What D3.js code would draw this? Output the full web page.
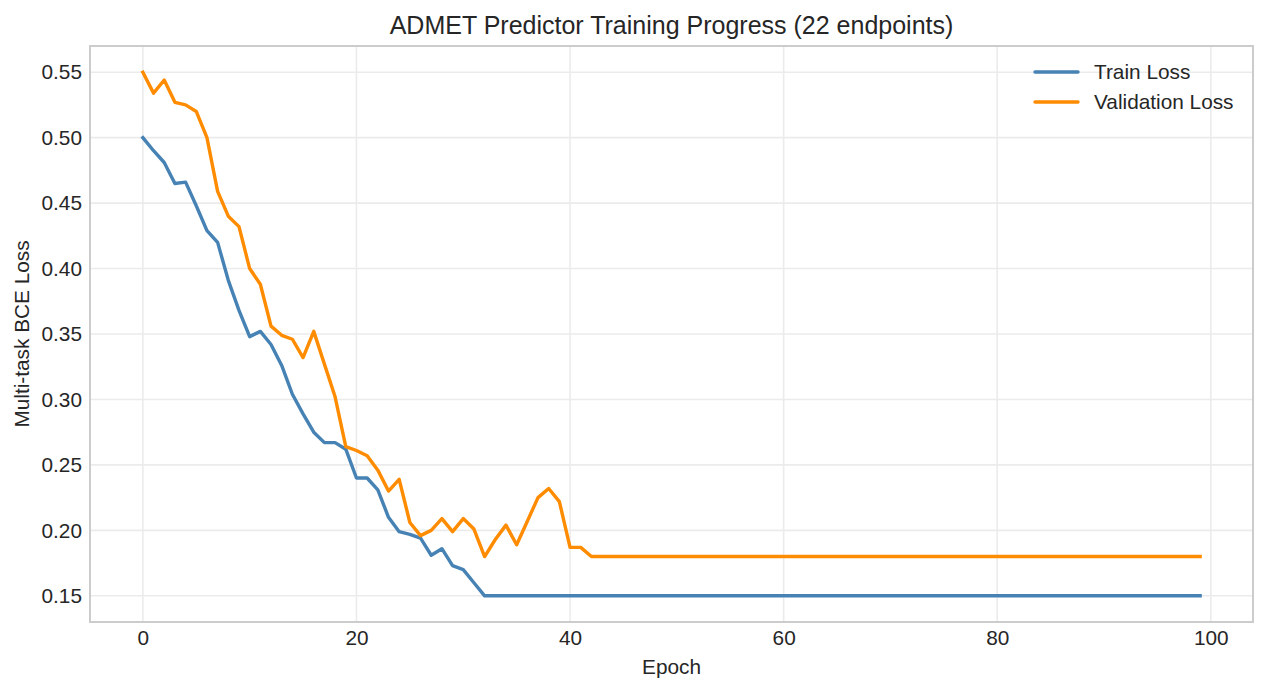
<!DOCTYPE html>
<html>
<head>
<meta charset="utf-8">
<script src="https://cdn.jsdelivr.net/npm/d3@7"></script>
<style>
  body { margin: 0; background: #fff; }
  svg text { font-family: "Liberation Sans", Arial, sans-serif; fill: #262626; }
</style>
</head>
<body>
<div id="chart"></div>
<script>
// Loss per epoch
var epochs = d3.range(100);

var trainLoss = [
  0.500, 0.490, 0.481, 0.465, 0.466, 0.448, 0.429, 0.420, 0.391, 0.368,
  0.348, 0.352, 0.342, 0.326, 0.304, 0.289, 0.275, 0.267, 0.267, 0.262,
  0.240, 0.240, 0.231, 0.210, 0.199, 0.197, 0.194, 0.181, 0.186, 0.173,
  0.170, 0.160, 0.150, 0.150, 0.150, 0.150, 0.150, 0.150, 0.150, 0.150,
  0.150, 0.150, 0.150, 0.150, 0.150, 0.150, 0.150, 0.150, 0.150, 0.150,
  0.150, 0.150, 0.150, 0.150, 0.150, 0.150, 0.150, 0.150, 0.150, 0.150,
  0.150, 0.150, 0.150, 0.150, 0.150, 0.150, 0.150, 0.150, 0.150, 0.150,
  0.150, 0.150, 0.150, 0.150, 0.150, 0.150, 0.150, 0.150, 0.150, 0.150,
  0.150, 0.150, 0.150, 0.150, 0.150, 0.150, 0.150, 0.150, 0.150, 0.150,
  0.150, 0.150, 0.150, 0.150, 0.150, 0.150, 0.150, 0.150, 0.150, 0.150
];

var valLoss = [
  0.550, 0.534, 0.544, 0.527, 0.525, 0.520, 0.500, 0.459, 0.440, 0.432,
  0.400, 0.388, 0.356, 0.349, 0.346, 0.332, 0.352, 0.327, 0.302, 0.264,
  0.261, 0.257, 0.246, 0.230, 0.239, 0.206, 0.196, 0.200, 0.209, 0.199,
  0.209, 0.201, 0.180, 0.193, 0.204, 0.189, 0.207, 0.225, 0.232, 0.222,
  0.187, 0.187, 0.180, 0.180, 0.180, 0.180, 0.180, 0.180, 0.180, 0.180,
  0.180, 0.180, 0.180, 0.180, 0.180, 0.180, 0.180, 0.180, 0.180, 0.180,
  0.180, 0.180, 0.180, 0.180, 0.180, 0.180, 0.180, 0.180, 0.180, 0.180,
  0.180, 0.180, 0.180, 0.180, 0.180, 0.180, 0.180, 0.180, 0.180, 0.180,
  0.180, 0.180, 0.180, 0.180, 0.180, 0.180, 0.180, 0.180, 0.180, 0.180,
  0.180, 0.180, 0.180, 0.180, 0.180, 0.180, 0.180, 0.180, 0.180, 0.180
];

var xTicks = [0, 20, 40, 60, 80, 100];
var yTicks = [0.15, 0.20, 0.25, 0.30, 0.35, 0.40, 0.45, 0.50, 0.55];

var seriesList = [
  { name: "Train Loss", values: trainLoss, color: "#4682b4" },
  { name: "Validation Loss", values: valLoss, color: "#ff8c00" }
];

var width = 1268, height = 692;
var margin = { top: 46, right: 15, bottom: 70, left: 90 };
var plotW = width - margin.left - margin.right;
var plotH = height - margin.top - margin.bottom;
var fontSize = "20.8px";

var svg = d3.select("#chart").append("svg")
  .attr("width", width)
  .attr("height", height);

// matplotlib style 5% margins
var x = d3.scaleLinear().domain([-4.95, 103.95]).range([0, plotW]);
var y = d3.scaleLinear().domain([0.13, 0.57]).range([plotH, 0]);

var g = svg.append("g")
  .attr("transform", "translate(" + margin.left + "," + margin.top + ")");

// grid
g.append("g").selectAll("line")
  .data(xTicks)
  .enter().append("line")
    .attr("x1", function(d) { return x(d); })
    .attr("x2", function(d) { return x(d); })
    .attr("y1", 0).attr("y2", plotH)
    .attr("stroke", "#ebebeb").attr("stroke-width", 1.6);

g.append("g").selectAll("line")
  .data(yTicks)
  .enter().append("line")
    .attr("y1", function(d) { return y(d); })
    .attr("y2", function(d) { return y(d); })
    .attr("x1", 0).attr("x2", plotW)
    .attr("stroke", "#ebebeb").attr("stroke-width", 1.6);

// axes (labels only, no tick marks)
var xAxis = g.append("g")
  .attr("transform", "translate(0," + plotH + ")")
  .call(d3.axisBottom(x).tickValues(xTicks).tickSize(0).tickPadding(8).tickFormat(d3.format("d")));
var yAxis = g.append("g")
  .call(d3.axisLeft(y).tickValues(yTicks).tickSize(0).tickPadding(8).tickFormat(d3.format(".2f")));
[xAxis, yAxis].forEach(function(a) {
  a.select(".domain").remove();
  a.selectAll("text").style("font-size", fontSize).attr("fill", "#262626");
});

// lines
var line = d3.line()
  .x(function(d, i) { return x(epochs[i]); })
  .y(function(d) { return y(d); });

g.append("g").selectAll("path")
  .data(seriesList)
  .enter().append("path")
    .attr("d", function(d) { return line(d.values); })
    .attr("fill", "none")
    .attr("stroke", function(d) { return d.color; })
    .attr("stroke-width", 3.4)
    .attr("stroke-linejoin", "round")
    .attr("stroke-linecap", "square");

// frame
g.append("rect")
  .attr("width", plotW).attr("height", plotH)
  .attr("fill", "none").attr("stroke", "#cccccc").attr("stroke-width", 2);

// legend
var legend = g.append("g").selectAll("g")
  .data(seriesList)
  .enter().append("g")
    .attr("transform", function(d, i) { return "translate(" + (plotW - 218) + "," + (26 + i * 30) + ")"; });
legend.append("line")
  .attr("x1", 0).attr("x2", 43)
  .attr("stroke", function(d) { return d.color; })
  .attr("stroke-width", 3.4)
  .attr("stroke-linecap", "round");
legend.append("text")
  .attr("x", 59).attr("dy", "0.35em")
  .style("font-size", fontSize)
  .text(function(d) { return d.name; });

// titles
svg.append("text")
  .attr("x", margin.left + plotW / 2).attr("y", 34)
  .attr("text-anchor", "middle")
  .style("font-size", "25px")
  .text("ADMET Predictor Training Progress (22 endpoints)");

svg.append("text")
  .attr("x", margin.left + plotW / 2).attr("y", 674)
  .attr("text-anchor", "middle")
  .style("font-size", fontSize)
  .text("Epoch");

svg.append("text")
  .attr("transform", "translate(29," + (margin.top + plotH / 2) + ") rotate(-90)")
  .attr("text-anchor", "middle")
  .style("font-size", fontSize)
  .text("Multi-task BCE Loss");
</script>
</body>
</html>
